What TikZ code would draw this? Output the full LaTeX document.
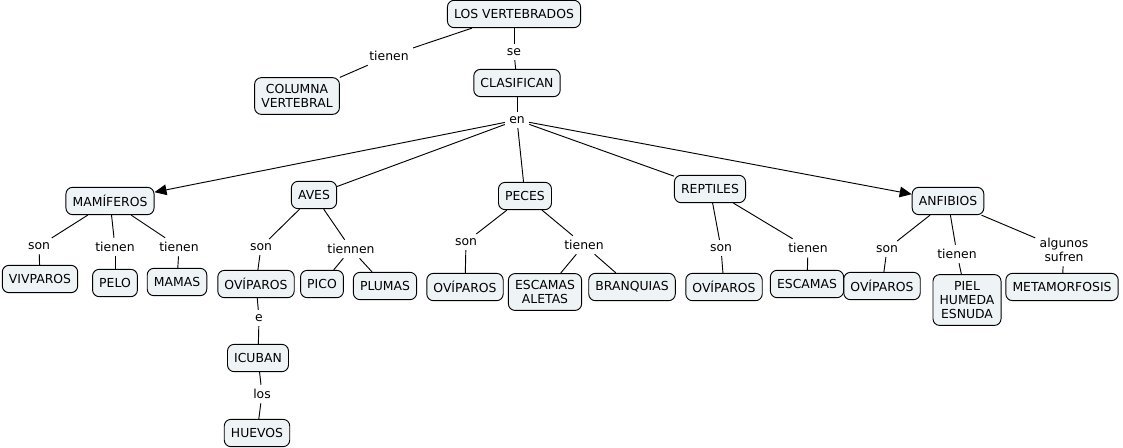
\documentclass[tikz,border=0pt]{standalone}
\usepackage{xcolor}
\usepackage{fontspec}
\setmainfont{DejaVu Sans}
\usepackage{tikz}
\usetikzlibrary{positioning,arrows.meta}
\definecolor{cmapfill}{RGB}{238,243,246}
\tikzset{
  concept/.style={draw,rounded corners=5pt,fill=cmapfill,align=center,
    inner xsep=5pt,inner ysep=5pt,minimum height=20.5pt},
  link/.style={inner sep=3pt,align=center},
  every node/.style={font=\fontsize{9.3}{10.6}\selectfont}
}

\begin{document}
\begin{tikzpicture}[x=0.75pt,y=-0.75pt,line width=0.7pt]
    \useasboundingbox (0,0) rectangle (1123,447) ;
    % conceptos
    \node[concept] (vert) at (514,14) {LOS VERTEBRADOS} ;
    \node[concept] (col) at (297,96) {COLUMNA\\VERTEBRAL} ;
    \node[concept] (clas) at (517,83) {CLASIFICAN} ;
    \node[concept] (mam) at (110,201) {MAMÍFEROS} ;
    \node[concept] (aves) at (314,195) {AVES} ;
    \node[concept] (peces) at (525,196) {PECES} ;
    \node[concept] (rept) at (710,189) {REPTILES} ;
    \node[concept] (anf) at (948,201) {ANFIBIOS} ;
    \node[concept] (viv) at (40,279) {VIVPAROS} ;
    \node[concept] (pelo) at (115,283) {PELO} ;
    \node[concept] (mamas) at (177,282) {MAMAS} ;
    \node[concept] (ov1) at (256,284) {OVÍPAROS} ;
    \node[concept] (pico) at (322,284) {PICO} ;
    \node[concept] (plum) at (385,286) {PLUMAS} ;
    \node[concept] (icu) at (258,358) {ICUBAN} ;
    \node[concept] (huev) at (257,433) {HUEVOS} ;
    \node[concept] (ov2) at (465,287) {OVÍPAROS} ;
    \node[concept] (esc1) at (545,292) {ESCAMAS\\ALETAS} ;
    \node[concept] (bran) at (632,287) {BRANQUIAS} ;
    \node[concept] (ov3) at (724,287) {OVÍPAROS} ;
    \node[concept] (esc2) at (807,284) {ESCAMAS} ;
    \node[concept] (ov4) at (882,286) {OVÍPAROS} ;
    \node[concept] (piel) at (967,300) {PIEL\\HUMEDA\\ESNUDA} ;
    \node[concept] (meta) at (1062,287) {METAMORFOSIS} ;
    % palabras de enlace
    \node[link] (l1) at (389,56) {tienen} ;
    \node[link] (l2) at (514,52) {se} ;
    \node[link] (l3) at (517,120) {en} ;
    \node[link] (l4) at (39,246) {son} ;
    \node[link] (l5) at (115,247) {tienen} ;
    \node[link] (l6) at (179,247) {tienen} ;
    \node[link] (l7) at (261,247) {son} ;
    \node[link] (l8) at (351,249) {tiennen} ;
    \node[link] (l9) at (259,318) {e} ;
    \node[link] (l10) at (262,394) {los} ;
    \node[link] (l11) at (466,242) {son} ;
    \node[link] (l12) at (584,245) {tienen} ;
    \node[link] (l13) at (721,248) {son} ;
    \node[link] (l14) at (808,248) {tienen} ;
    \node[link] (l15) at (887,249) {son} ;
    \node[link] (l16) at (957,254) {tienen} ;
    \node[link] (l17) at (1064,250) {algunos\\sufren} ;
    % conexiones
    \draw (vert) -- (l1) ;
    \draw (l1) -- (col) ;
    \draw (vert) -- (l2) ;
    \draw (l2) -- (clas) ;
    \draw (clas) -- (l3) ;
    \draw[-{Triangle[length=9pt,width=8pt]}] (l3) -- (mam) ;
    \draw (l3) -- (aves) ;
    \draw (l3) -- (peces) ;
    \draw (l3) -- (rept) ;
    \draw[-{Triangle[length=9pt,width=8pt]}] (l3) -- (anf) ;
    \draw (mam) -- (l4) ;
    \draw (l4) -- (viv) ;
    \draw (mam) -- (l5) ;
    \draw (l5) -- (pelo) ;
    \draw (mam) -- (l6) ;
    \draw (l6) -- (mamas) ;
    \draw (aves) -- (l7) ;
    \draw (l7) -- (ov1) ;
    \draw (aves) -- (l8) ;
    \draw (l8) -- (pico) ;
    \draw (l8) -- (plum) ;
    \draw (ov1) -- (l9) ;
    \draw (l9) -- (icu) ;
    \draw (icu) -- (l10) ;
    \draw (l10) -- (huev) ;
    \draw (peces) -- (l11) ;
    \draw (l11) -- (ov2) ;
    \draw (peces) -- (l12) ;
    \draw (l12) -- (esc1) ;
    \draw (l12) -- (bran) ;
    \draw (rept) -- (l13) ;
    \draw (l13) -- (ov3) ;
    \draw (rept) -- (l14) ;
    \draw (l14) -- (esc2) ;
    \draw (anf) -- (l15) ;
    \draw (l15) -- (ov4) ;
    \draw (anf) -- (l16) ;
    \draw (l16) -- (piel) ;
    \draw (anf) -- (l17) ;
    \draw (l17) -- (meta) ;
\end{tikzpicture}
\end{document}
